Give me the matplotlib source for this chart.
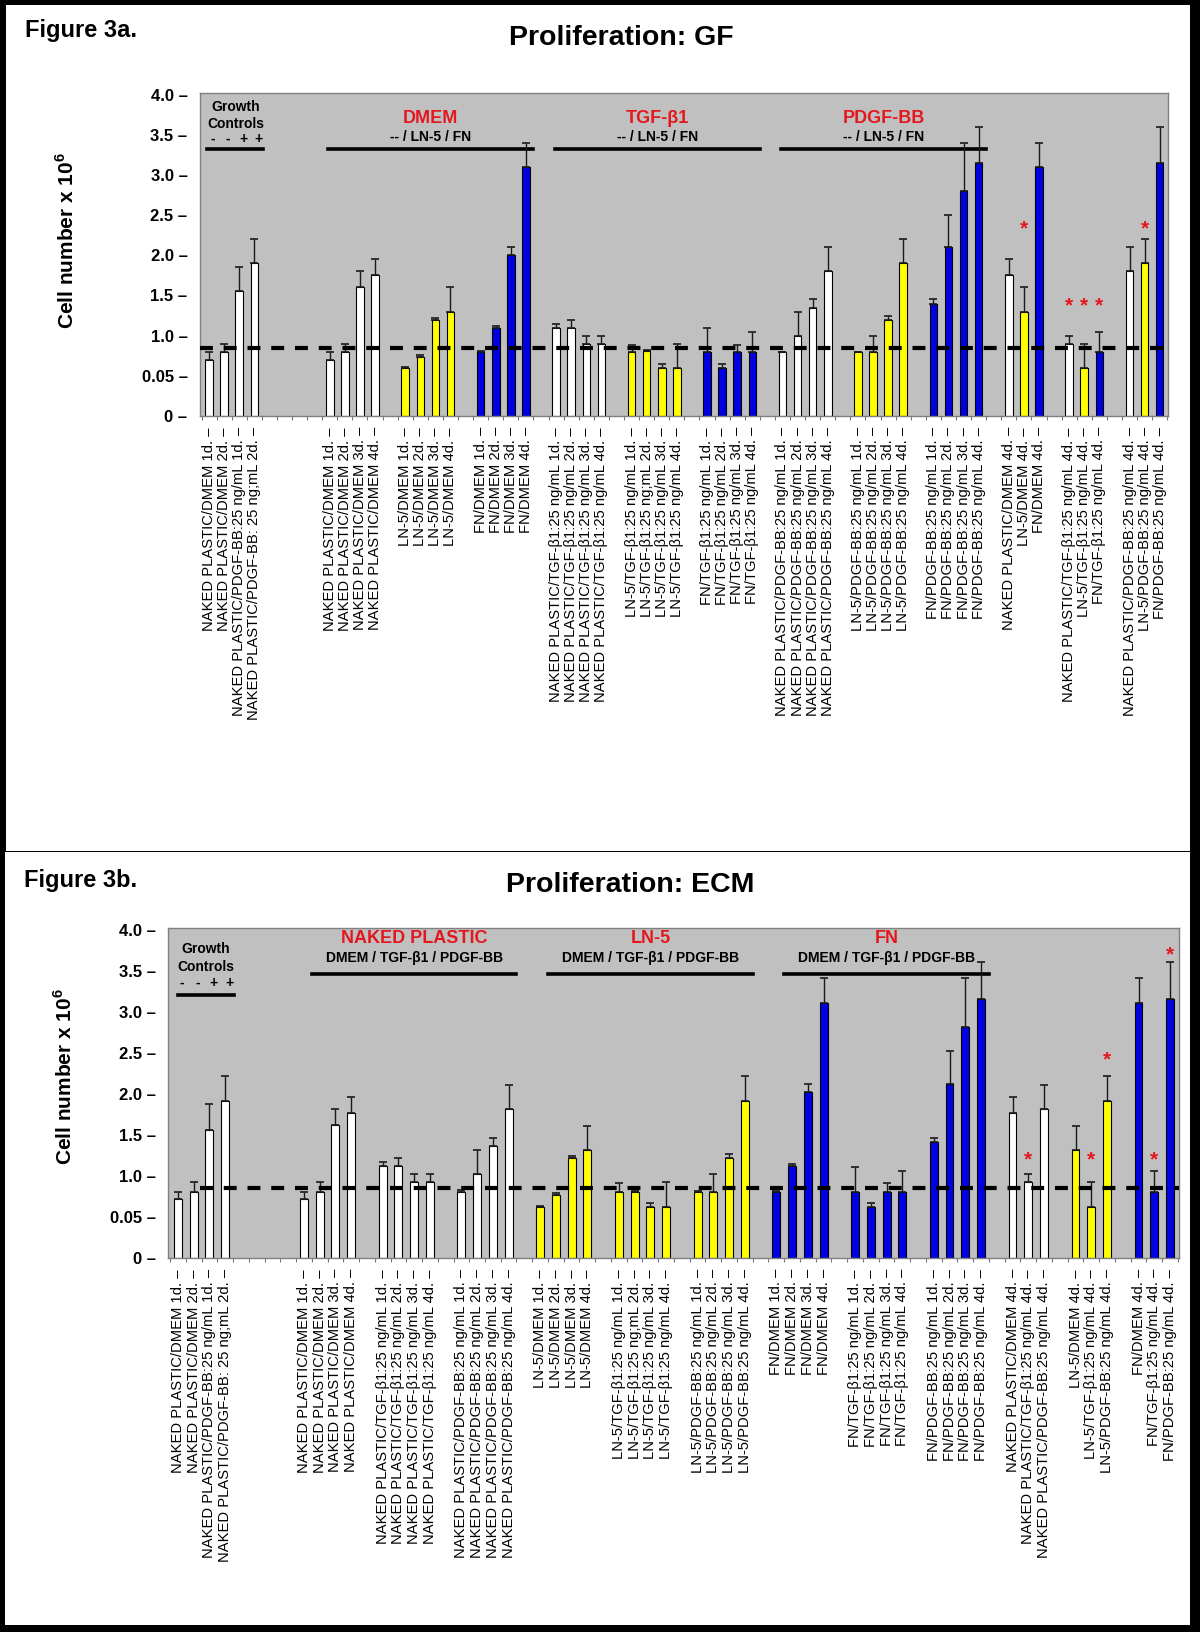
import matplotlib
matplotlib.use('Agg')
import matplotlib.pyplot as plt
from matplotlib.patches import Rectangle

plt.rcParams['font.family'] = ['Liberation Sans', 'DejaVu Sans']
plt.rcParams['mathtext.fontset'] = 'custom'
plt.rcParams['mathtext.rm'] = 'Liberation Sans'
plt.rcParams['mathtext.bf'] = 'Liberation Sans:bold'

B = 'TGF-\u03b21'

# ---------------- data: Figure 3a (GF) ----------------
groups_a = [
    ['NAKED PLASTIC/DMEM 1d.', 'NAKED PLASTIC/DMEM 2d.',
     'NAKED PLASTIC/PDGF-BB:25 ng/mL 1d.', 'NAKED PLASTIC/PDGF-BB: 25 ng;mL 2d.'],
    ['NAKED PLASTIC/DMEM 1d.', 'NAKED PLASTIC/DMEM 2d.', 'NAKED PLASTIC/DMEM 3d.', 'NAKED PLASTIC/DMEM 4d.'],
    ['LN-5/DMEM 1d.', 'LN-5/DMEM 2d.', 'LN-5/DMEM 3d.', 'LN-5/DMEM 4d.'],
    ['FN/DMEM 1d.', 'FN/DMEM 2d.', 'FN/DMEM 3d.', 'FN/DMEM 4d.'],
    [f'NAKED PLASTIC/{B}:25 ng/mL 1d.', f'NAKED PLASTIC/{B}:25 ng/mL 2d.',
     f'NAKED PLASTIC/{B}:25 ng/mL 3d.', f'NAKED PLASTIC/{B}:25 ng/mL 4d.'],
    [f'LN-5/{B}:25 ng/mL 1d.', f'LN-5/{B}:25 ng;mL 2d.', f'LN-5/{B}:25 ng/mL 3d.', f'LN-5/{B}:25 ng/mL 4d.'],
    [f'FN/{B}:25 ng/mL 1d.', f'FN/{B}:25 ng/mL 2d.', f'FN/{B}:25 ng/mL 3d.', f'FN/{B}:25 ng/mL 4d.'],
    ['NAKED PLASTIC/PDGF-BB:25 ng/mL 1d.', 'NAKED PLASTIC/PDGF-BB:25 ng/mL 2d.',
     'NAKED PLASTIC/PDGF-BB:25 ng/mL 3d.', 'NAKED PLASTIC/PDGF-BB:25 ng/mL 4d.'],
    ['LN-5/PDGF-BB:25 ng/mL 1d.', 'LN-5/PDGF-BB:25 ng/mL 2d.', 'LN-5/PDGF-BB:25 ng/mL 3d.', 'LN-5/PDGF-BB:25 ng/mL 4d.'],
    ['FN/PDGF-BB:25 ng/mL 1d.', 'FN/PDGF-BB:25 ng/mL 2d.', 'FN/PDGF-BB:25 ng/mL 3d.', 'FN/PDGF-BB:25 ng/mL 4d.'],
    ['NAKED PLASTIC/DMEM 4d.', 'LN-5/DMEM 4d.', 'FN/DMEM 4d.'],
    [f'NAKED PLASTIC/{B}:25 ng/mL 4d.', f'LN-5/{B}:25 ng/mL 4d.', f'FN/{B}:25 ng/mL 4d.'],
    ['NAKED PLASTIC/PDGF-BB:25 ng/mL 4d.', 'LN-5/PDGF-BB:25 ng/mL 4d.', 'FN/PDGF-BB:25 ng/mL 4d.'],
]
values_a = [
    [0.70, 0.80, 1.55, 1.90],
    [0.70, 0.80, 1.60, 1.75],
    [0.60, 0.74, 1.20, 1.30],
    [0.80, 1.10, 2.00, 3.10],
    [1.10, 1.10, 0.90, 0.90],
    [0.80, 0.81, 0.60, 0.60],
    [0.80, 0.60, 0.80, 0.80],
    [0.80, 1.00, 1.35, 1.80],
    [0.80, 0.80, 1.20, 1.90],
    [1.40, 2.10, 2.80, 3.15],
    [1.75, 1.30, 3.10],
    [0.90, 0.60, 0.80],
    [1.80, 1.90, 3.15],
]
errors_a = [
    [0.10, 0.10, 0.30, 0.30],
    [0.10, 0.10, 0.20, 0.20],
    [0.01, 0.02, 0.02, 0.30],
    [0.01, 0.02, 0.10, 0.30],
    [0.05, 0.10, 0.10, 0.10],
    [0.08, 0.01, 0.05, 0.30],
    [0.30, 0.05, 0.08, 0.25],
    [0.00, 0.30, 0.10, 0.30],
    [0.00, 0.20, 0.05, 0.30],
    [0.05, 0.40, 0.60, 0.45],
    [0.20, 0.30, 0.30],
    [0.10, 0.30, 0.25],
    [0.30, 0.30, 0.45],
]
# (group, bar in group, height of red asterisk)
stars_a = [(10, 1, 2.33), (11, 0, 1.37), (11, 1, 1.37), (11, 2, 1.37), (12, 1, 2.33)]
headers_a = [('DMEM', '-- / LN-5 / FN', 1, 3),
             (B, '-- / LN-5 / FN', 4, 6),
             ('PDGF-BB', '-- / LN-5 / FN', 7, 9)]

# ---------------- data: Figure 3b (ECM) ----------------
groups_b = [
    groups_a[0],
    groups_a[1],
    groups_a[4],
    groups_a[7],
    groups_a[2],
    groups_a[5],
    groups_a[8],
    groups_a[3],
    groups_a[6],
    groups_a[9],
    ['NAKED PLASTIC/DMEM 4d.', f'NAKED PLASTIC/{B}:25 ng/mL 4d.', 'NAKED PLASTIC/PDGF-BB:25 ng/mL 4d.'],
    ['LN-5/DMEM 4d.', f'LN-5/{B}:25 ng/mL 4d.', 'LN-5/PDGF-BB:25 ng/mL 4d.'],
    ['FN/DMEM 4d.', f'FN/{B}:25 ng/mL 4d.', 'FN/PDGF-BB:25 ng/mL 4d.'],
]
values_b = [
    [0.72, 0.81, 1.56, 1.91],
    [0.72, 0.81, 1.62, 1.77],
    [1.12, 1.12, 0.92, 0.92],
    [0.81, 1.02, 1.36, 1.81],
    [0.62, 0.77, 1.22, 1.31],
    [0.81, 0.81, 0.62, 0.62],
    [0.81, 0.81, 1.22, 1.91],
    [0.81, 1.12, 2.02, 3.11],
    [0.81, 0.62, 0.81, 0.81],
    [1.41, 2.12, 2.81, 3.16],
    [1.77, 0.92, 1.81],
    [1.31, 0.62, 1.91],
    [3.11, 0.81, 3.16],
]
errors_b = [
    [0.09, 0.11, 0.31, 0.31],
    [0.09, 0.11, 0.20, 0.19],
    [0.05, 0.10, 0.10, 0.10],
    [0.02, 0.29, 0.10, 0.30],
    [0.01, 0.02, 0.02, 0.30],
    [0.10, 0.01, 0.05, 0.30],
    [0.01, 0.21, 0.05, 0.31],
    [0.01, 0.03, 0.10, 0.30],
    [0.30, 0.05, 0.10, 0.25],
    [0.05, 0.40, 0.60, 0.45],
    [0.19, 0.10, 0.30],
    [0.30, 0.30, 0.31],
    [0.30, 0.25, 0.45],
]
stars_b = [(10, 1, 1.20), (11, 1, 1.20), (11, 2, 2.41), (12, 1, 1.20), (12, 2, 3.69)]
headers_b = [('NAKED PLASTIC', f'DMEM / {B} / PDGF-BB', 1, 3),
             ('LN-5', f'DMEM / {B} / PDGF-BB', 4, 6),
             ('FN', f'DMEM / {B} / PDGF-BB', 7, 9)]

control_signs = ['-', '-', '+', '+']
baseline = 0.85
yticks = [0, 0.5, 1.0, 1.5, 2.0, 2.5, 3.0, 3.5, 4.0]
ytick_labels = ['0', '0.05', '1.0', '1.5', '2.0', '2.5', '3.0', '3.5', '4.0']
gaps = [4] + [1] * 12

RED = '#E3181F'
COLORS = {'NAKED': 'white', 'LN-5': '#FFFF00', 'FN': '#0000E0'}


def bar_color(label):
    for k, c in COLORS.items():
        if label.startswith(k):
            return c
    return 'white'


def draw_panel(ax, groups, values, errors, stars, headers, xlim, hy, line_off, dash_start):
    pos, labels, vals, errs, cols, gpos = [], [], [], [], [], []
    p = 0
    for g, v, e, gap in zip(groups, values, errors, gaps):
        gp = list(range(p, p + len(g)))
        gpos.append(gp)
        pos += gp
        labels += g
        vals += v
        errs += e
        cols += [bar_color(s) for s in g]
        p += len(g) + gap

    ax.set_facecolor('#C0C0C0')
    ax.bar(pos, vals, width=0.5, color=cols, edgecolor='black', linewidth=0.8, zorder=2)
    ax.errorbar(pos, vals, yerr=[[0] * len(errs), errs], fmt='none', ecolor='#1a1a1a',
                elinewidth=1.0, capsize=3, capthick=1.2, zorder=3)
    ax.plot([dash_start, xlim[1]], [baseline, baseline], color='black', lw=3.0,
            dashes=(3.1, 2.6), zorder=4)

    for gi, bi, h in stars:
        ax.text(gpos[gi][bi], h, '*', color=RED, fontsize=15, fontweight='bold',
                ha='center', va='center', zorder=5)

    # growth controls header
    gc = gpos[0]
    gx = (gc[0] + gc[-1] + 0.5) / 2
    ax.text(gx, hy['gc1'], 'Growth', ha='center', va='center', fontsize=10, fontweight='bold')
    ax.text(gx, hy['gc2'], 'Controls', ha='center', va='center', fontsize=10, fontweight='bold')
    for x, sign in zip(gc, control_signs):
        ax.text(x + 0.25, hy['gc3'], sign, ha='center', va='center', fontsize=10, fontweight='bold')
    ax.plot([gc[0] + line_off[0], gc[-1] + 0.55], [hy['gcl'], hy['gcl']], color='black', lw=2.6)

    for red, sub, g0, g1 in headers:
        x0 = gpos[g0][0] + line_off[1]
        x1 = gpos[g1][-1] + 0.5
        xc = (x0 + x1) / 2
        ax.text(xc, hy['red'], red, color=RED, ha='center', va='center', fontsize=13, fontweight='bold')
        ax.text(xc, hy['sub'], sub, ha='center', va='center', fontsize=10, fontweight='bold')
        ax.plot([x0, x1], [hy['line'], hy['line']], color='black', lw=2.6)

    ax.set_xlim(*xlim)
    ax.set_ylim(0, 4.02)
    ax.set_yticks(yticks)
    ax.set_yticklabels([t + ' \u2013' for t in ytick_labels], fontsize=12, fontweight='bold')
    ax.tick_params(axis='y', length=0, pad=9)
    ax.set_xticks(pos)
    ax.set_xticklabels([s + ' \u2013' for s in labels], rotation=90, fontsize=10.6)
    ax.tick_params(axis='x', length=0, pad=8)
    ax.set_xticks([x - 0.5 for x in range(0, 65)], minor=True)
    ax.tick_params(axis='x', which='minor', length=3, color='#777777', width=0.8)
    for s in ax.spines.values():
        s.set_color('#808080')
        s.set_linewidth(1.0)


W, H = 1200, 1632
fig = plt.figure(figsize=(W / 100, H / 100), dpi=100)
fig.patch.set_facecolor('black')
fig.patches.append(Rectangle((6 / W, 1 - 850.5 / H), 1184 / W, 845.5 / H,
                             transform=fig.transFigure, facecolor='white', edgecolor='none', zorder=-5))
fig.patches.append(Rectangle((5 / W, 1 - 1625 / H), 1185 / W, (1625 - 851.8) / H,
                             transform=fig.transFigure, facecolor='white', edgecolor='none', zorder=-5))

ax_a = fig.add_axes([200 / W, 1 - 416 / H, 968 / W, (416 - 93) / H])
draw_panel(ax_a, groups_a, values_a, errors_a, stars_a, headers_a, (-0.6, 63.55),
           {'gc1': 3.85, 'gc2': 3.64, 'gc3': 3.45, 'gcl': 3.32, 'red': 3.70, 'sub': 3.47, 'line': 3.32},
           (-0.15, -0.1), -0.6)

ax_b = fig.add_axes([168 / W, 1 - 1258 / H, 1011 / W, (1258 - 928) / H])
draw_panel(ax_b, groups_b, values_b, errors_b, stars_b, headers_b, (-0.63, 63.57),
           {'gc1': 3.76, 'gc2': 3.54, 'gc3': 3.35, 'gcl': 3.20, 'red': 3.89, 'sub': 3.65, 'line': 3.46},
           (0.0, 0.5), 1.4)

fig.text(25 / W, 1 - 31 / H, 'Figure 3a.', fontsize=17, fontweight='bold', va='center')
fig.text(621 / W, 1 - 38 / H, 'Proliferation: GF', fontsize=20.5, fontweight='bold', ha='center', va='center')
fig.text(24 / W, 1 - 880 / H, 'Figure 3b.', fontsize=17, fontweight='bold', va='center')
fig.text(630 / W, 1 - 885 / H, 'Proliferation: ECM', fontsize=20.5, fontweight='bold', ha='center', va='center')

ylab = r'Cell number x 10$^{\mathbf{6}}$'
fig.text(66 / W, 1 - 241 / H, ylab, rotation=90, fontsize=15, fontweight='bold', ha='center', va='center')
fig.text(64 / W, 1 - 1077 / H, ylab, rotation=90, fontsize=15, fontweight='bold', ha='center', va='center')

fig.savefig('out.png', dpi=100, facecolor=fig.get_facecolor())
